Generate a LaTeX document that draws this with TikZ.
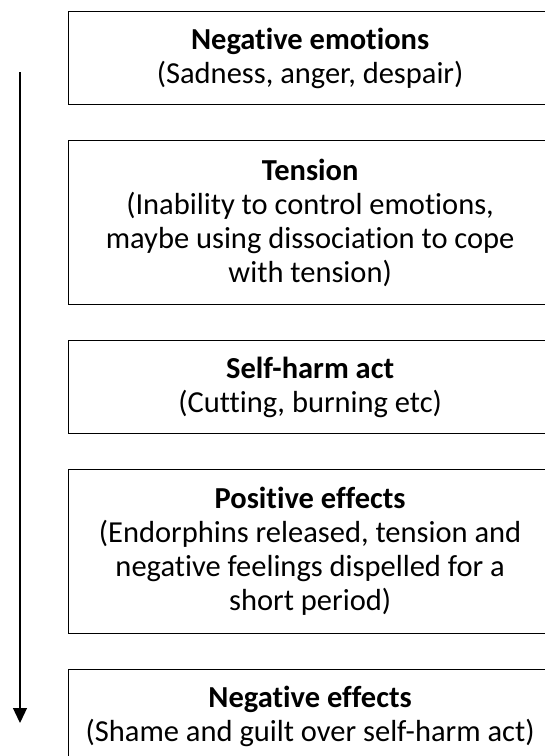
\documentclass[tikz,border=0pt]{standalone}
\usepackage{fontspec}
\setmainfont{Carlito}[Ligatures=NoCommon]
\usetikzlibrary{arrows.meta}
\tikzset{
  stagebox/.style={draw=black, line width=1.3pt, minimum width=483pt, inner sep=0pt, align=center,
    font=\fontsize{30.5}{34}\selectfont, anchor=north west},
  flowarrow/.style={line width=1.3pt, -{Triangle[width=14pt,length=15pt]}}
}
\begin{document}
\begin{tikzpicture}[x=1pt,y=-1pt]
\useasboundingbox (0,0) rectangle (545,756);
\clip (0,0) rectangle (545,756);
\node[stagebox, minimum height=93pt] (b1) at (68,11) {\textbf{Negative emotions}\\(Sadness, anger, despair)};
\node[stagebox, minimum height=164pt] (b2) at (68,140) {\textbf{Tension}\\(Inability to control emotions,\\maybe using dissociation to cope\\with tension)};
\node[stagebox, minimum height=93pt] (b3) at (68,340) {\textbf{Self-harm act}\\(Cutting, burning etc)};
\node[stagebox, minimum height=164pt] (b4) at (68,469) {\textbf{Positive effects}\\(Endorphins released, tension and\\negative feelings dispelled for a\\short period)};
\node[stagebox, minimum height=93pt] (b5) at (68,669) {\textbf{Negative effects}\\(Shame and guilt over self-harm act)};
\coordinate (as) at (20,72);
\coordinate (ae) at (20,723);
\draw[flowarrow] (as) -- (ae);
\end{tikzpicture}
\end{document}
